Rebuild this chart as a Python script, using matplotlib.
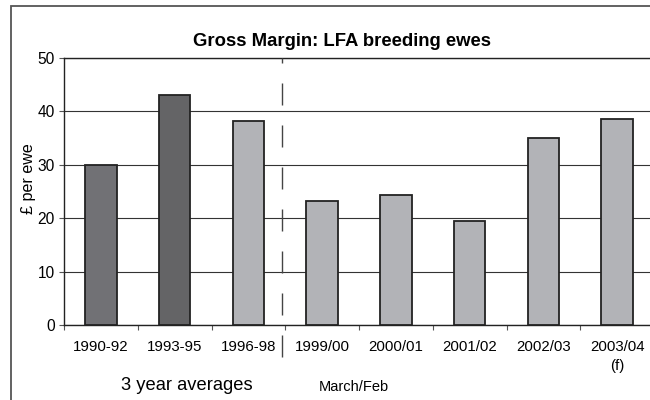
import matplotlib
matplotlib.use('Agg')
import matplotlib.pyplot as plt
from matplotlib.patches import Rectangle

periods = ['1990-92', '1993-95', '1996-98', '1999/00', '2000/01',
           '2001/02', '2002/03', '2003/04\n(f)']
margin = [29.9, 43.1, 38.2, 23.3, 24.3, 19.5, 35.1, 38.6]
bar_colours = ['#717175', '#646466', '#b2b3b7', '#b2b3b7', '#b2b3b7',
               '#b2b3b7', '#b2b3b7', '#b2b3b7']

plt.rcParams['font.family'] = ['Liberation Sans', 'DejaVu Sans']
plt.rcParams['lines.scale_dashes'] = False

fig = plt.figure(figsize=(6.5, 4), dpi=100)
ax = fig.add_axes([64 / 650, 75 / 400, 590 / 650, 267 / 400])

x = range(len(periods))
ax.bar(x, margin, width=0.43, color=bar_colours, edgecolor='#222222',
       linewidth=1.3, zorder=3)

ax.set_xlim(-0.5, 7.5)
ax.set_ylim(0, 50)
ax.set_yticks([0, 10, 20, 30, 40, 50])
ax.yaxis.grid(True, color='#333333', linewidth=0.8, zorder=0)
ax.tick_params(axis='y', labelsize=11.2, length=3.6, width=0.8, pad=3,
               color='#555555')

ax.set_xticks(list(x))
ax.set_xticklabels(periods, fontsize=10.8, va='top', linespacing=1.45)
ax.set_xticks([i - 0.5 for i in range(len(periods) + 1)], minor=True)
ax.tick_params(axis='x', which='major', length=0, pad=11)
ax.tick_params(axis='x', which='minor', length=3.6, width=0.8,
               color='#555555')

for side in ['left', 'bottom', 'top', 'right']:
    ax.spines[side].set_color('#222222')
    ax.spines[side].set_linewidth(1.0)

# split between averages and single years
ax.plot([2.45, 2.45], [-6, 50], color='#444444', linewidth=1.0,
        dashes=(22 * 0.72, 20 * 0.72), clip_on=False, zorder=4)

ax.set_ylabel('£ per ewe', fontsize=11.6)
ax.yaxis.set_label_coords(-0.048, 0.55)

fig.text(342 / 650, 1 - 41 / 400, 'Gross Margin: LFA breeding ewes',
         ha='center', va='center', fontsize=13.3, fontweight='bold')
fig.text(187 / 650, 1 - 385 / 400, '3 year averages', ha='center',
         va='center', fontsize=13.2)
fig.text(354 / 650, 1 - 387 / 400, 'March/Feb', ha='center',
         va='center', fontsize=10.5)

fig.patches.append(Rectangle((11 / 650, -0.1), 1.2, 1.1 - 6 / 400,
                             transform=fig.transFigure, fill=False,
                             edgecolor='#555555', linewidth=1.3))

fig.savefig('out.png', dpi=100)
